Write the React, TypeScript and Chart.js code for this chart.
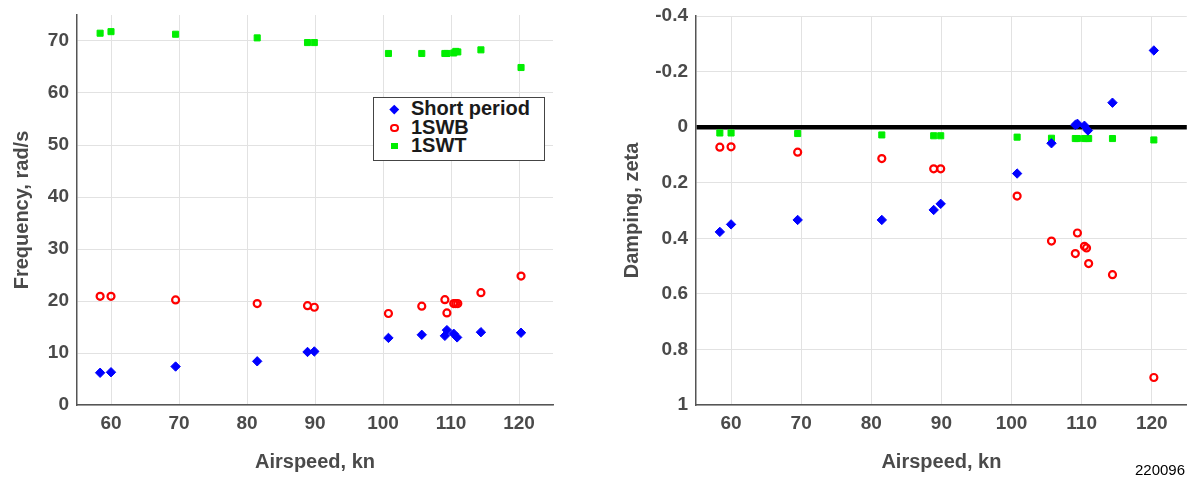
import React, { useEffect, useRef } from "react";
import { Chart, registerables } from "chart.js";

Chart.register(...registerables);

// ---------- data ----------
const seriesNames = ["Short period", "1SWB", "1SWT"];
const seriesColors = ["#0000ff", "#ff0000", "#00ee00"];

const spAirspeed = [58.4, 60.0, 69.5, 81.5, 88.9, 89.9, 100.8, 105.7, 109.1, 109.4, 110.4, 110.9, 114.4, 120.3];
const spFrequency = [6.2, 6.3, 7.4, 8.4, 10.2, 10.3, 12.9, 13.5, 13.3, 14.4, 13.7, 13.0, 14.0, 13.9];
const spDamping = [0.377, 0.35, 0.334, 0.334, 0.298, 0.276, 0.167, 0.058, -0.008, -0.012, -0.005, 0.012, -0.088, -0.276];

const swbAirspeed = [58.4, 60.0, 69.5, 81.5, 88.9, 89.9, 100.8, 105.7, 109.1, 109.4, 110.4, 110.7, 111.0, 114.4, 120.3];
const swbFrequency = [20.9, 20.9, 20.2, 19.5, 19.1, 18.8, 17.6, 19.0, 20.25, 17.7, 19.5, 19.5, 19.5, 21.6, 24.8];
const swbDamping = [0.072, 0.071, 0.09, 0.113, 0.15, 0.15, 0.248, 0.41, 0.455, 0.381, 0.429, 0.435, 0.491, 0.531, 0.901];

const swtAirspeed = [58.4, 60.0, 69.5, 81.5, 88.9, 89.9, 100.8, 105.7, 109.1, 109.4, 110.4, 110.7, 111.0, 114.4, 120.3];
const swtFrequency = [71.5, 71.8, 71.3, 70.6, 69.7, 69.7, 67.6, 67.6, 67.6, 67.6, 67.7, 68.0, 67.9, 68.3, 64.9];
const swtDamping = [0.021, 0.021, 0.023, 0.028, 0.031, 0.031, 0.036, 0.04, 0.041, 0.041, 0.041, 0.041, 0.041, 0.041, 0.046];

const airspeedTicks = [60, 70, 80, 90, 100, 110, 120];
const frequencyTicks = [0, 10, 20, 30, 40, 50, 60, 70];
const dampingTicks = [-0.4, -0.2, 0, 0.2, 0.4, 0.6, 0.8, 1];

const xTitle = "Airspeed, kn";
const freqTitle = "Frequency, rad/s";
const dampTitle = "Damping, zeta";
const figureId = "220096";

// ---------- styles ----------
const FONT = "'Liberation Sans', Arial, Helvetica, sans-serif";
const TEXT = "#4a4a4a";
const GRID = "#e2e2e2";
const AXIS = "#555555";

const pts = (xs: number[], ys: number[]) => xs.map((x, i) => ({ x, y: ys[i] }));

function datasets(freq: boolean) {
  return [
    {
      label: seriesNames[0],
      data: pts(spAirspeed, freq ? spFrequency : spDamping),
      pointStyle: "rectRot",
      pointRadius: 4.7,
      backgroundColor: seriesColors[0],
      borderColor: seriesColors[0],
      borderWidth: 1,
      showLine: false,
    },
    {
      label: seriesNames[1],
      data: pts(swbAirspeed, freq ? swbFrequency : swbDamping),
      pointStyle: "circle",
      pointRadius: 3.5,
      backgroundColor: "rgba(255,255,255,0)",
      borderColor: seriesColors[1],
      borderWidth: 2.2,
      showLine: false,
    },
    {
      label: seriesNames[2],
      data: pts(swtAirspeed, freq ? swtFrequency : swtDamping),
      pointStyle: "rect",
      pointRadius: 4.3,
      backgroundColor: seriesColors[2],
      borderColor: seriesColors[2],
      borderWidth: 1,
      showLine: false,
    },
  ];
}

function makeOptions(cfg: {
  yMin: number;
  yMax: number;
  yTicks: number[];
  reverse: boolean;
  yTitle: string;
  yWidth: number;
  yTitlePad: number;
  padTop: number;
  padRight: number;
  zeroLine: boolean;
}) {
  const tickFont = { family: FONT, size: 19, weight: "bold" as const };
  const titleFont = { family: FONT, size: 20, weight: "bold" as const, lineHeight: 1.2 };
  return {
    responsive: false,
    animation: false as const,
    events: [],
    layout: { padding: { top: cfg.padTop, right: cfg.padRight, bottom: 0, left: 0 } },
    plugins: { legend: { display: false }, tooltip: { enabled: false }, title: { display: false } },
    scales: {
      x: {
        type: "linear" as const,
        min: 55,
        max: 125,
        afterBuildTicks: (s: any) => {
          s.ticks = airspeedTicks.map((value) => ({ value }));
        },
        afterFit: (s: any) => {
          s.height = 73;
          s.paddingLeft = 0;
          s.paddingRight = 0;
        },
        ticks: { font: tickFont, color: TEXT, padding: 7, maxRotation: 0, autoSkip: false, callback: (v: any) => String(v) },
        grid: { color: GRID, lineWidth: 1, drawTicks: false },
        border: { display: true, color: AXIS, width: 1.5 },
        title: { display: true, text: xTitle, font: titleFont, color: TEXT, padding: { top: 0, bottom: 4 } },
      },
      y: {
        type: "linear" as const,
        min: cfg.yMin,
        max: cfg.yMax,
        reverse: cfg.reverse,
        afterBuildTicks: (s: any) => {
          s.ticks = cfg.yTicks.map((value) => ({ value }));
        },
        afterFit: (s: any) => {
          s.width = cfg.yWidth;
          s.paddingTop = 0;
          s.paddingBottom = 0;
        },
        ticks: {
          font: tickFont,
          color: TEXT,
          padding: 8,
          autoSkip: false,
          callback: (v: any) => String(Math.round(Number(v) * 10) / 10),
        },
        grid: {
          drawTicks: false,
          color: (c: any) => (cfg.zeroLine && c.tick && c.tick.value === 0 ? "#000000" : GRID),
          lineWidth: (c: any) => (cfg.zeroLine && c.tick && c.tick.value === 0 ? 4.5 : 1),
        },
        border: { display: true, color: AXIS, width: 1.5 },
        title: { display: true, text: cfg.yTitle, font: titleFont, color: TEXT, padding: { top: cfg.yTitlePad, bottom: 0 } },
      },
    },
  };
}

function Marker({ kind }: { kind: number }) {
  const base: React.CSSProperties = { position: "absolute", left: 16, boxSizing: "border-box" };
  if (kind === 0)
    return <div style={{ ...base, left: 17, top: -3, width: 6.5, height: 6.5, background: seriesColors[0], transform: "rotate(45deg)" }} />;
  if (kind === 1)
    return <div style={{ ...base, top: -4, width: 8.5, height: 8.5, borderRadius: "50%", border: `2px solid ${seriesColors[1]}` }} />;
  return <div style={{ ...base, left: 17, top: -3, width: 6.5, height: 6.5, background: seriesColors[2] }} />;
}

export default function App() {
  const leftRef = useRef<HTMLCanvasElement>(null);
  const rightRef = useRef<HTMLCanvasElement>(null);

  useEffect(() => {
    const left = new Chart(leftRef.current!, {
      type: "scatter",
      data: { datasets: datasets(true) as any },
      options: makeOptions({
        yMin: 0,
        yMax: 75,
        yTicks: frequencyTicks,
        reverse: false,
        yTitle: freqTitle,
        yWidth: 77,
        yTitlePad: 10,
        padTop: 15,
        padRight: 37,
        zeroLine: false,
      }) as any,
    });
    const right = new Chart(rightRef.current!, {
      type: "scatter",
      data: { datasets: datasets(false) as any },
      options: makeOptions({
        yMin: -0.4,
        yMax: 1,
        yTicks: dampingTicks,
        reverse: true,
        yTitle: dampTitle,
        yWidth: 106,
        yTitlePad: 30,
        padTop: 16,
        padRight: 5,
        zeroLine: true,
      }) as any,
    });
    return () => {
      left.destroy();
      right.destroy();
    };
  }, []);

  const rowCenters = [10.5, 29.5, 47.5];

  return (
    <div style={{ position: "absolute", left: 0, top: 0, width: 1193, height: 478, overflow: "hidden", background: "#fff" }}>
      <canvas ref={leftRef} width={590} height={478} style={{ position: "absolute", left: 0, top: 0, width: 590, height: 478 }} />
      <canvas ref={rightRef} width={603} height={478} style={{ position: "absolute", left: 590, top: 0, width: 603, height: 478 }} />
      <div
        style={{
          position: "absolute",
          left: 373,
          top: 97,
          width: 172,
          height: 64,
          boxSizing: "border-box",
          border: "1.5px solid #444",
          background: "#fff",
          fontFamily: FONT,
          fontWeight: "bold",
          fontSize: 20,
          color: "#1a1a1a",
        }}
      >
        {seriesNames.map((name, i) => (
          <div key={name} style={{ position: "absolute", left: 0, top: rowCenters[i], width: "100%", height: 0 }}>
            <Marker kind={i} />
            <div style={{ position: "absolute", left: 37, top: -12, lineHeight: "22px", whiteSpace: "nowrap" }}>{name}</div>
          </div>
        ))}
      </div>
      <div style={{ position: "absolute", left: 1135, top: 461, fontFamily: FONT, fontSize: 15, lineHeight: "18px", color: "#000" }}>
        {figureId}
      </div>
    </div>
  );
}
